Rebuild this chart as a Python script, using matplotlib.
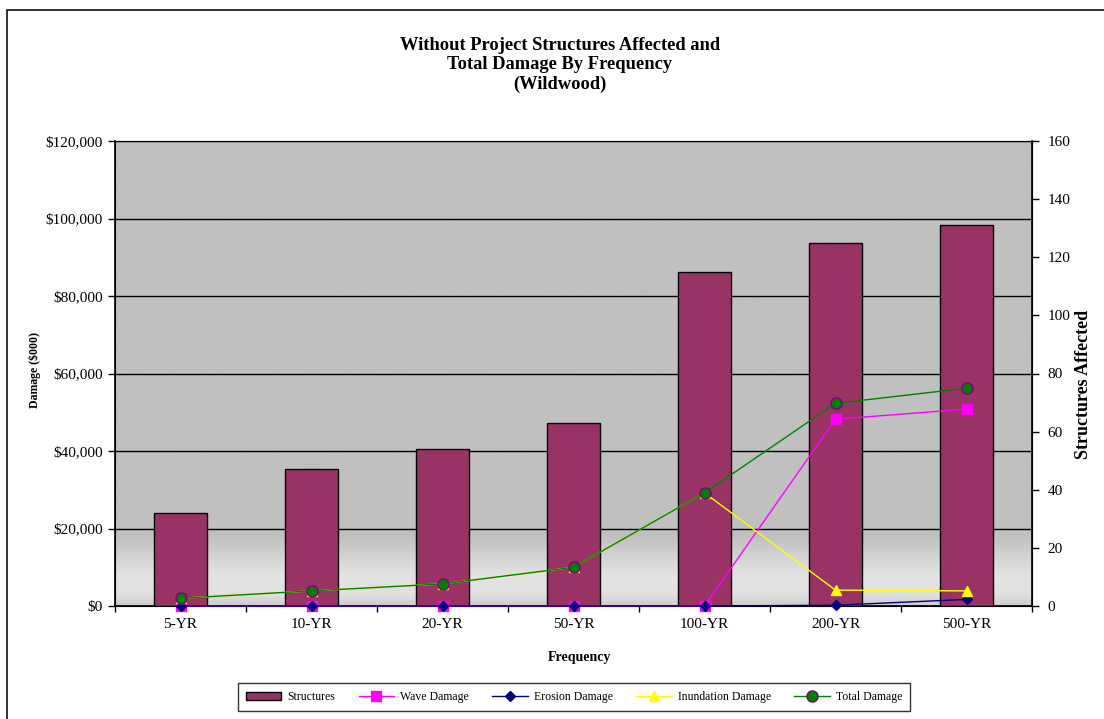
import matplotlib.pyplot as plt
import numpy as np
from matplotlib.patches import Rectangle
from matplotlib.ticker import FuncFormatter, MultipleLocator

plt.rcParams['font.family'] = ['Liberation Serif', 'DejaVu Serif']

# data ($000 for damages, count for structures)
frequency = ['5-YR', '10-YR', '20-YR', '50-YR', '100-YR', '200-YR', '500-YR']
structures = [32, 47, 54, 63, 115, 125, 131]
wave_damage = [0, 0, 0, 0, 0, 48200, 50800]
erosion_damage = [0, 0, 0, 0, 0, 200, 1700]
inundation_damage = [2000, 3900, 5700, 10000, 29200, 4100, 3900]
total_damage = [2000, 3900, 5700, 10000, 29200, 52300, 56200]

W, H = 1104, 719
fig = plt.figure(figsize=(W / 100, H / 100), dpi=100)

# outer chart border
fig.patches.append(Rectangle((7 / W, -0.1), 1.2, 1.1 - 10 / H, transform=fig.transFigure,
                             fill=False, edgecolor='#222222', linewidth=1.3))

x = np.arange(len(frequency))
pos = [115 / W, 1 - 606 / H, (1032 - 115) / W, (606 - 141) / H]

# left axis: background, gridlines
ax = fig.add_axes(pos)
yy = np.linspace(0, 1, 400)
shade = np.interp(yy, [0, 0.025, 0.065, 0.15, 1], [0.80, 0.88, 0.89, 0.753, 0.753])
ax.imshow(shade[:, None], extent=[0, 1, 0, 1], transform=ax.transAxes, cmap='gray',
          vmin=0, vmax=1, origin='lower', aspect='auto', zorder=0)
ax.set_xlim(-0.5, len(frequency) - 0.5)
ax.set_ylim(0, 120000)
ax.yaxis.set_major_locator(MultipleLocator(20000))
ax.yaxis.set_major_formatter(FuncFormatter(lambda v, p: f'${v:,.0f}'))
ax.grid(axis='y', color='black', linewidth=1.0, zorder=1)
ax.set_axisbelow(True)
ax.set_xticks(x)
ax.set_xticklabels(frequency, fontsize=11)
ax.set_xticks(np.arange(-0.5, len(frequency)), minor=True)
ax.tick_params(axis='x', which='major', length=0, pad=9)
ax.tick_params(axis='x', which='minor', length=4, direction='out', width=1)
ax.tick_params(axis='y', length=5, direction='out', width=1, labelsize=11, pad=4)
ax.spines['top'].set_color('#444444')
for s in ['left', 'bottom']:
    ax.spines[s].set_linewidth(1.2)
ax.set_ylabel('Damage ($000)', fontsize=8.5, fontweight='bold')
ax.yaxis.set_label_coords(-0.0807, 0.507)
ax.set_xlabel('Frequency', fontsize=10, fontweight='bold')
ax.xaxis.set_label_coords(0.507, -0.097)

# right axis: structures bars
ax2 = ax.twinx()
ax2.bar(x, structures, width=0.40, color='#993366', edgecolor='black', linewidth=1.0,
        label='Structures', zorder=2)
ax2.set_ylim(0, 160)
ax2.yaxis.set_major_locator(MultipleLocator(20))
ax2.tick_params(axis='y', length=5, direction='out', width=1, labelsize=11, pad=6)
ax2.spines['right'].set_linewidth(1.2)
ax2.set_ylabel('Structures Affected', fontsize=13, fontweight='bold')
ax2.yaxis.set_label_coords(1.047, 0.477)

# damage lines on top of the bars, left scale
ax3 = ax.twinx()
ax3.set_ylim(0, 120000)
ax3.axis('off')
ax3.plot(x, wave_damage, color='#FF00FF', marker='s', markersize=6.5, linewidth=1.0,
         label='Wave Damage', clip_on=False, zorder=3)
ax3.plot(x, erosion_damage, color='#000080', marker='D', markersize=5, linewidth=1.0,
         label='Erosion Damage', clip_on=False, zorder=4)
ax3.plot(x, inundation_damage, color='#FFFF00', marker='^', markersize=7, linewidth=1.0,
         label='Inundation Damage', clip_on=False, zorder=5)
ax3.plot(x, total_damage, color='#008000', marker='o', markersize=8, markeredgecolor='#800080',
         markeredgewidth=1.0, linewidth=1.0, label='Total Damage', clip_on=False, zorder=6)

fig.text(560 / W, 1 - 65 / H,
         'Without Project Structures Affected and\nTotal Damage By Frequency\n(Wildwood)',
         ha='center', va='center', fontsize=13.3, fontweight='bold', linespacing=1.17)

handles = ax2.get_legend_handles_labels()[0] + ax3.get_legend_handles_labels()[0]
labels = ax2.get_legend_handles_labels()[1] + ax3.get_legend_handles_labels()[1]
leg = fig.legend(handles, labels, loc='center', bbox_to_anchor=(574 / W, 1 - 697 / H), ncol=5,
                 fontsize=8.5, frameon=True, fancybox=False, edgecolor='black',
                 handlelength=3.0, columnspacing=2.0, borderpad=0.7, handletextpad=0.5)
leg.get_frame().set_linewidth(1.0)

fig.savefig('out.png', dpi=100)
